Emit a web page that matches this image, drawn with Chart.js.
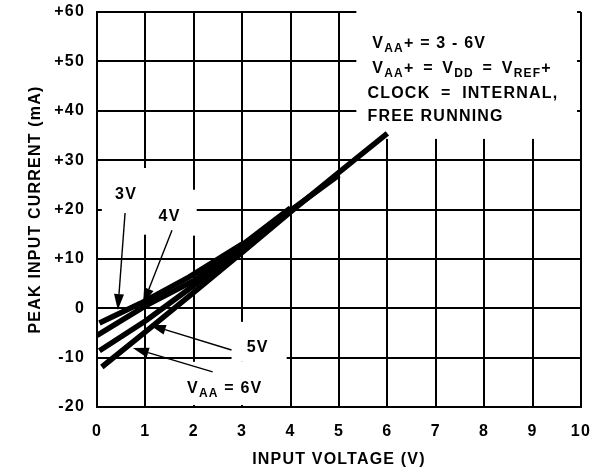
<!DOCTYPE html>
<html>
<head>
<meta charset="utf-8">
<script src="https://cdn.jsdelivr.net/npm/chart.js@4/dist/chart.umd.min.js"></script>
<style>
  html, body { margin: 0; padding: 0; background: #fff; }
  canvas { display: block; }
</style>
</head>
<body>
<canvas id="chart" width="606" height="471"></canvas>
<script>
// Peak input current vs input voltage, one curve per supply (VAA)
const voltage3V = [0.05, 0.9, 1.9, 3.0];
const current3V = [-3.0, 1.0, 6.3, 13.0];
const voltage4V = [0, 1, 2, 3, 4];
const current4V = [-5.5, 0.5, 5.6, 12.8, 20.3];
const voltage5V = [0.05, 1, 2, 3, 4, 5];
const current5V = [-8.6, -2.6, 4.6, 12.2, 19.8, 27.0];
const voltage6V = [0.1, 1, 2, 3, 4, 5, 6];
const current6V = [-11.9, -4.8, 3.2, 11.3, 19.5, 27.5, 35.4];

const xRange = [0, 10];
const yRange = [-20, 60];

// curve labels: [text, subscript?]
const curveLabels = [
    [['3V', 0]],
    [['4V', 0]],
    [['5V', 0]],
    [['V', 0], ['AA', 1], [' = 6V', 0]],
];
// label baseline centre and arrow (from -> tip), in data units
const labelAt = [[0.6, 22.15], [1.5, 17.7], [3.32, -8.8], [2.64, -17.1]];
const arrowFrom = [[0.58, 19.3], [1.55, 15.8], [2.78, -8.45], [2.39, -12.9]];
const arrowTo = [[0.43, -0.35], [0.95, 0.85], [1.09, -3.4], [0.74, -8.05]];

// conditions note, top right
const noteLines = [
    [['V', 0], ['AA', 1], ['+ = 3 - 6V', 0]],
    [['V', 0], ['AA', 1], ['+ = V', 0], ['DD', 1], [' = V', 0], ['REF', 1], ['+', 0]],
    [['CLOCK = INTERNAL,', 0]],
    [['FREE RUNNING', 0]],
];
const noteAt = [[5.69, 52.7], [5.69, 47.65], [5.59, 42.6], [5.59, 37.9]];
const noteWordGap = [0, 3, 5, 0];

// white patches under the texts (grid is broken there), x0, y0, x1, y1
const blankBoxes = [
    [5.36, 62.4, 9.92, 34.3],
    [0.1, 28.4, 1.3, 14.9],
    [1.3, 24, 2.06, 14.7],
    [2.78, -2.75, 3.92, -10.85],
    [1.71, -10.85, 3.94, -19.6],
];

const FONT = '"Liberation Sans", Arial, Helvetica, sans-serif';
const mainFont = 'bold 16px ' + FONT;
const subFont = 'bold 12px ' + FONT;

function toPoints(xs, ys) {
    return xs.map((v, i) => ({ x: v, y: ys[i] }));
}

function richText(ctx, segs, x, y, align, wordGap) {
    ctx.wordSpacing = (wordGap || 0) + 'px';
    const widths = segs.map(([t, sub]) => {
        ctx.font = sub ? subFont : mainFont;
        return ctx.measureText(t).width;
    });
    const total = widths.reduce((a, b) => a + b, 0);
    let cx = align === 'center' ? x - total / 2 : x;
    segs.forEach(([t, sub], i) => {
        ctx.font = sub ? subFont : mainFont;
        ctx.fillText(t, cx, sub ? y + 4 : y);
        cx += widths[i];
    });
    ctx.wordSpacing = '0px';
}

function arrow(ctx, x1, y1, x2, y2) {
    const a = Math.atan2(y2 - y1, x2 - x1);
    const len = 16, half = 5;
    const bx = x2 - len * Math.cos(a), by = y2 - len * Math.sin(a);
    ctx.beginPath();
    ctx.moveTo(x1, y1);
    ctx.lineTo(bx, by);
    ctx.stroke();
    ctx.beginPath();
    ctx.moveTo(x2, y2);
    ctx.lineTo(bx + half * Math.sin(a), by - half * Math.cos(a));
    ctx.lineTo(bx - half * Math.sin(a), by + half * Math.cos(a));
    ctx.closePath();
    ctx.fill();
}

// the original lettering is a bit wider than Arial
const spacing = {
    id: 'spacing',
    beforeUpdate(chart) { chart.ctx.letterSpacing = '1.2px'; },
    beforeDraw(chart) { chart.ctx.letterSpacing = '1.2px'; },
};

const annotations = {
    id: 'annotations',
    beforeDatasetsDraw(chart) {
        const { ctx, scales: { x, y } } = chart;
        ctx.save();
        ctx.fillStyle = '#fff';
        blankBoxes.forEach(([x0, y0, x1, y1]) => {
            const left = x.getPixelForValue(x0), top = y.getPixelForValue(y0);
            ctx.fillRect(left, top, x.getPixelForValue(x1) - left, y.getPixelForValue(y1) - top);
        });
        ctx.restore();
    },
    afterDatasetsDraw(chart) {
        const { ctx, scales: { x, y } } = chart;
        ctx.save();
        ctx.fillStyle = '#000';
        ctx.strokeStyle = '#000';
        ctx.lineWidth = 1.4;
        ctx.textBaseline = 'alphabetic';
        ctx.textAlign = 'left';
        curveLabels.forEach((segs, i) => {
            richText(ctx, segs, x.getPixelForValue(labelAt[i][0]), y.getPixelForValue(labelAt[i][1]), 'center');
            arrow(ctx,
                x.getPixelForValue(arrowFrom[i][0]), y.getPixelForValue(arrowFrom[i][1]),
                x.getPixelForValue(arrowTo[i][0]), y.getPixelForValue(arrowTo[i][1]));
        });
        noteLines.forEach((segs, i) => {
            richText(ctx, segs, x.getPixelForValue(noteAt[i][0]), y.getPixelForValue(noteAt[i][1]), 'left', noteWordGap[i]);
        });
        ctx.restore();
    },
};

const curveStyle = {
    borderColor: '#000',
    borderWidth: 5.5,
    pointRadius: 0,
    pointHoverRadius: 0,
    tension: 0,
    fill: false,
};

const ctx = document.getElementById('chart').getContext('2d');
new Chart(ctx, {
    type: 'line',
    data: {
        datasets: [
            { label: '3V', data: toPoints(voltage3V, current3V), ...curveStyle },
            { label: '4V', data: toPoints(voltage4V, current4V), ...curveStyle },
            { label: '5V', data: toPoints(voltage5V, current5V), ...curveStyle },
            { label: '6V', data: toPoints(voltage6V, current6V), ...curveStyle },
        ],
    },
    options: {
        responsive: false,
        animation: false,
        layout: { padding: { left: 0, right: 24, top: 12, bottom: 0 } },
        plugins: {
            legend: { display: false },
            tooltip: { enabled: false },
        },
        scales: {
            x: {
                type: 'linear',
                min: xRange[0],
                max: xRange[1],
                grid: { color: '#000', lineWidth: 2, drawTicks: false },
                border: { color: '#000', width: 2 },
                ticks: {
                    stepSize: 1,
                    padding: 15,
                    color: '#000',
                    font: { family: FONT, size: 16, weight: 'bold' },
                },
                title: {
                    display: true,
                    text: 'INPUT VOLTAGE (V)',
                    color: '#000',
                    font: { family: FONT, size: 16, weight: 'bold' },
                    padding: { top: 0, bottom: 2 },
                },
                afterFit(scale) { scale.height = 64; },
            },
            y: {
                min: yRange[0],
                max: yRange[1],
                grid: { color: '#000', lineWidth: 2, drawTicks: false },
                border: { color: '#000', width: 2 },
                ticks: {
                    stepSize: 10,
                    padding: 12,
                    color: '#000',
                    font: { family: FONT, size: 16, weight: 'bold' },
                    callback: function(value) {
                        return value > 0 ? '+' + value : String(value);
                    },
                },
                title: {
                    display: true,
                    text: 'PEAK INPUT CURRENT (mA)',
                    color: '#000',
                    font: { family: FONT, size: 16, weight: 'bold' },
                    padding: { top: 26, bottom: 0 },
                },
                afterFit(scale) {
                    scale.width = 97;
                    // keep the tick padding from pushing the plot down
                    scale.paddingTop = 0;
                    scale.paddingBottom = 0;
                },
            },
        },
    },
    plugins: [spacing, annotations],
});
</script>
</body>
</html>
